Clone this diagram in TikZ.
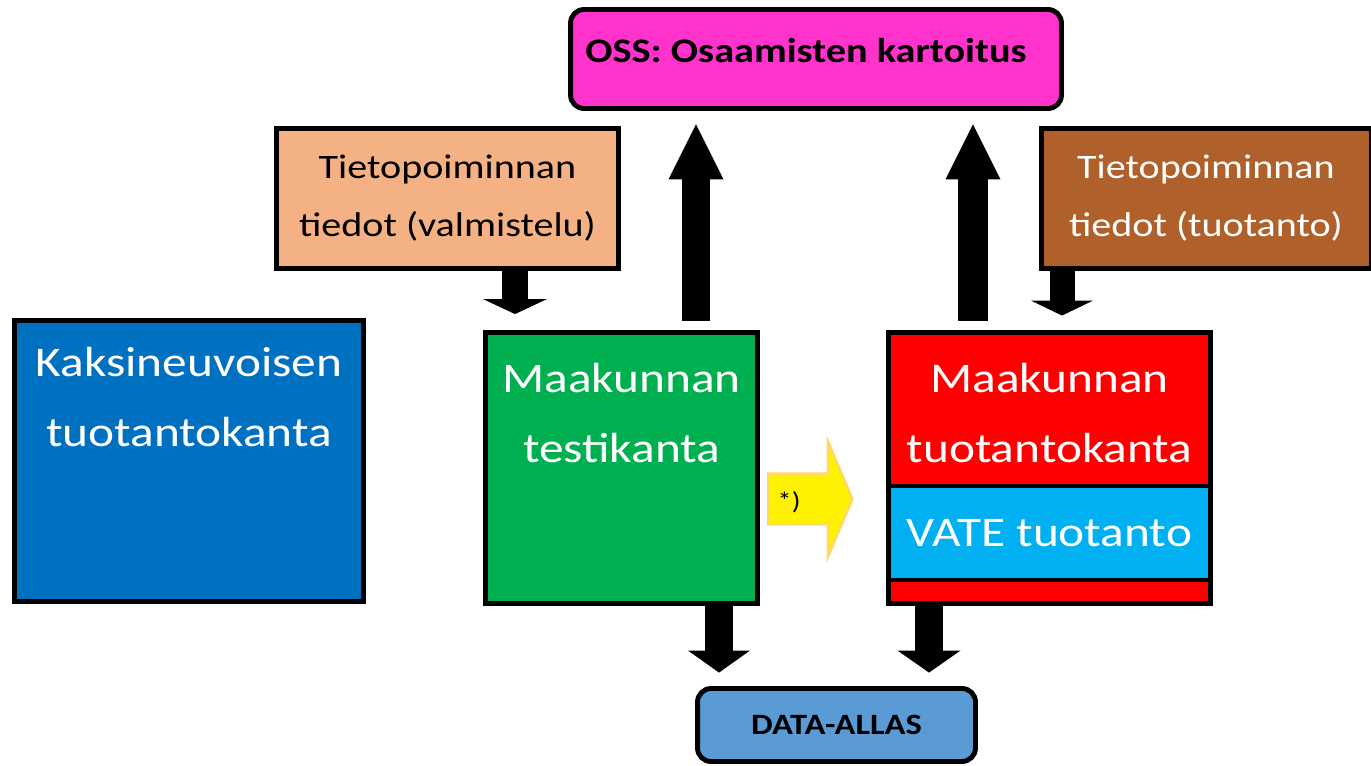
\documentclass[tikz,border=0pt]{standalone}
\usepackage{fontspec}
\setmainfont{Carlito}[FakeStretch=1.17]
\usepackage{tikz}
\usetikzlibrary{arrows.meta,shapes.arrows}
\definecolor{ossmag}{HTML}{FF33CC}
\definecolor{valmpeach}{HTML}{F4B183}
\definecolor{tuotbrown}{HTML}{B0602A}
\definecolor{kaksiblue}{HTML}{0070C0}
\definecolor{testigreen}{HTML}{00B050}
\definecolor{vateblue}{HTML}{00B0F0}
\definecolor{allasblue}{HTML}{5B9BD5}
\definecolor{fwdyellow}{HTML}{FFF200}
\definecolor{fwdedge}{HTML}{FFD966}
\tikzset{
  box/.style={draw=black, line width=2.8pt, inner sep=0pt},
  bigtxt/.style={text=white, inner sep=0pt, align=center, font=\fontsize{24}{40}\selectfont},
  midtxt/.style={align=center, font=\fontsize{19.5}{33}\selectfont},
  blk/.style n args={3}{line width=#1, -{Triangle[width=#2, length=#3, line width=0pt]}}
}

\begin{document}
\begin{tikzpicture}[x=0.02cm, y=-0.02cm]
                \useasboundingbox (0,0) rectangle (1371,765);

                % OSS box on top
                \node[box, fill=ossmag, rounded corners=0.27cm, minimum width=9.82cm, minimum height=1.98cm] (oss) at (816,59) {};
                \node[anchor=base west, inner sep=0pt, font=\fontsize{19.6}{24}\selectfont\bfseries] (osstxt) at (585,62) {OSS: Osaamisten kartoitus};

                % Tietopoiminta boxes
                \node[box, fill=valmpeach, minimum width=6.84cm, minimum height=2.8cm, midtxt] (valm) at (447.5,198.5) {Tietopoiminnan\\tiedot (valmistelu)};
                \node[box, fill=tuotbrown, text=white, minimum width=6.6cm, minimum height=2.8cm, midtxt] (tuot) at (1206,198.5) {Tietopoiminnan\\tiedot (tuotanto)};

                % Databases
                \node[box, fill=kaksiblue, minimum width=6.98cm, minimum height=5.62cm] (kaksi) at (189,461) {};
                \node[anchor=north, bigtxt] (kaksitxt) at (189,347) {Kaksineuvoisen\\tuotantokanta};
                \node[box, fill=testigreen, minimum width=5.44cm, minimum height=5.42cm] (testi) at (621.5,468) {};
                \node[anchor=north, bigtxt] (testitxt) at (621.5,363) {Maakunnan\\testikanta};
                \node[box, fill=red, minimum width=6.44cm, minimum height=5.42cm] (tuotk) at (1049.5,468) {};
                \node[anchor=north, bigtxt] (tuotktxt) at (1049.5,363) {Maakunnan\\tuotantokanta};
                \node[box, fill=vateblue, minimum width=6.44cm, minimum height=1.88cm, text=white, font=\fontsize{24}{40}\selectfont] (vate) at (1049.5,533) {VATE tuotanto};

                % Yellow arrow between test and production
                \node[single arrow, fill=fwdyellow, draw=fwdedge, line width=1.5pt, single arrow head extend=0.64cm, single arrow tip angle=134, minimum height=1.68cm, inner xsep=0pt, inner ysep=0.48cm, text height=0pt, text depth=0pt] (fwd) at (805,499) {};
                \node[inner sep=0pt, font=\fontsize{14}{16}\selectfont] (fwdtxt) at (789,502) {*)};

                % DATA-ALLAS
                \node[box, fill=allasblue, rounded corners=0.27cm, minimum width=5.56cm, minimum height=1.46cm, font=\fontsize{16.8}{20}\selectfont\bfseries] (allas) at (836.5,725) {DATA-ALLAS};

                % Arrow columns
                \coordinate (upTest) at (696,0);
                \coordinate (upProd) at (973,0);
                \coordinate (inTest) at (515,0);
                \coordinate (inProd) at (1062,0);
                \coordinate (outTest) at (719,0);
                \coordinate (outProd) at (929,0);

                % Block arrows
                \draw[blk={0.56cm}{1.1cm}{1.1cm}, shorten <=0.19cm, shorten >=0.27cm] (testi.north -| upTest) -- (oss.south -| upTest); %test to OSS
                \draw[blk={0.6cm}{1.1cm}{1.1cm}, shorten <=0.19cm, shorten >=0.27cm] (tuotk.north -| upProd) -- (oss.south -| upProd); %production to OSS
                \draw[blk={0.52cm}{1.28cm}{0.3cm}, shorten >=0.32cm] (valm.south -| inTest) -- (testi.north -| inTest);
                \draw[blk={0.5cm}{1.24cm}{0.3cm}, shorten >=0.29cm] (tuot.south -| inProd) -- (tuotk.north -| inProd);
                \draw[blk={0.56cm}{1.24cm}{0.44cm}, shorten >=0.27cm] (testi.south -| outTest) -- (allas.north -| outTest); %down to data lake
                \draw[blk={0.56cm}{1.26cm}{0.44cm}, shorten >=0.27cm] (tuotk.south -| outProd) -- (allas.north -| outProd);
\end{tikzpicture}
\end{document}
